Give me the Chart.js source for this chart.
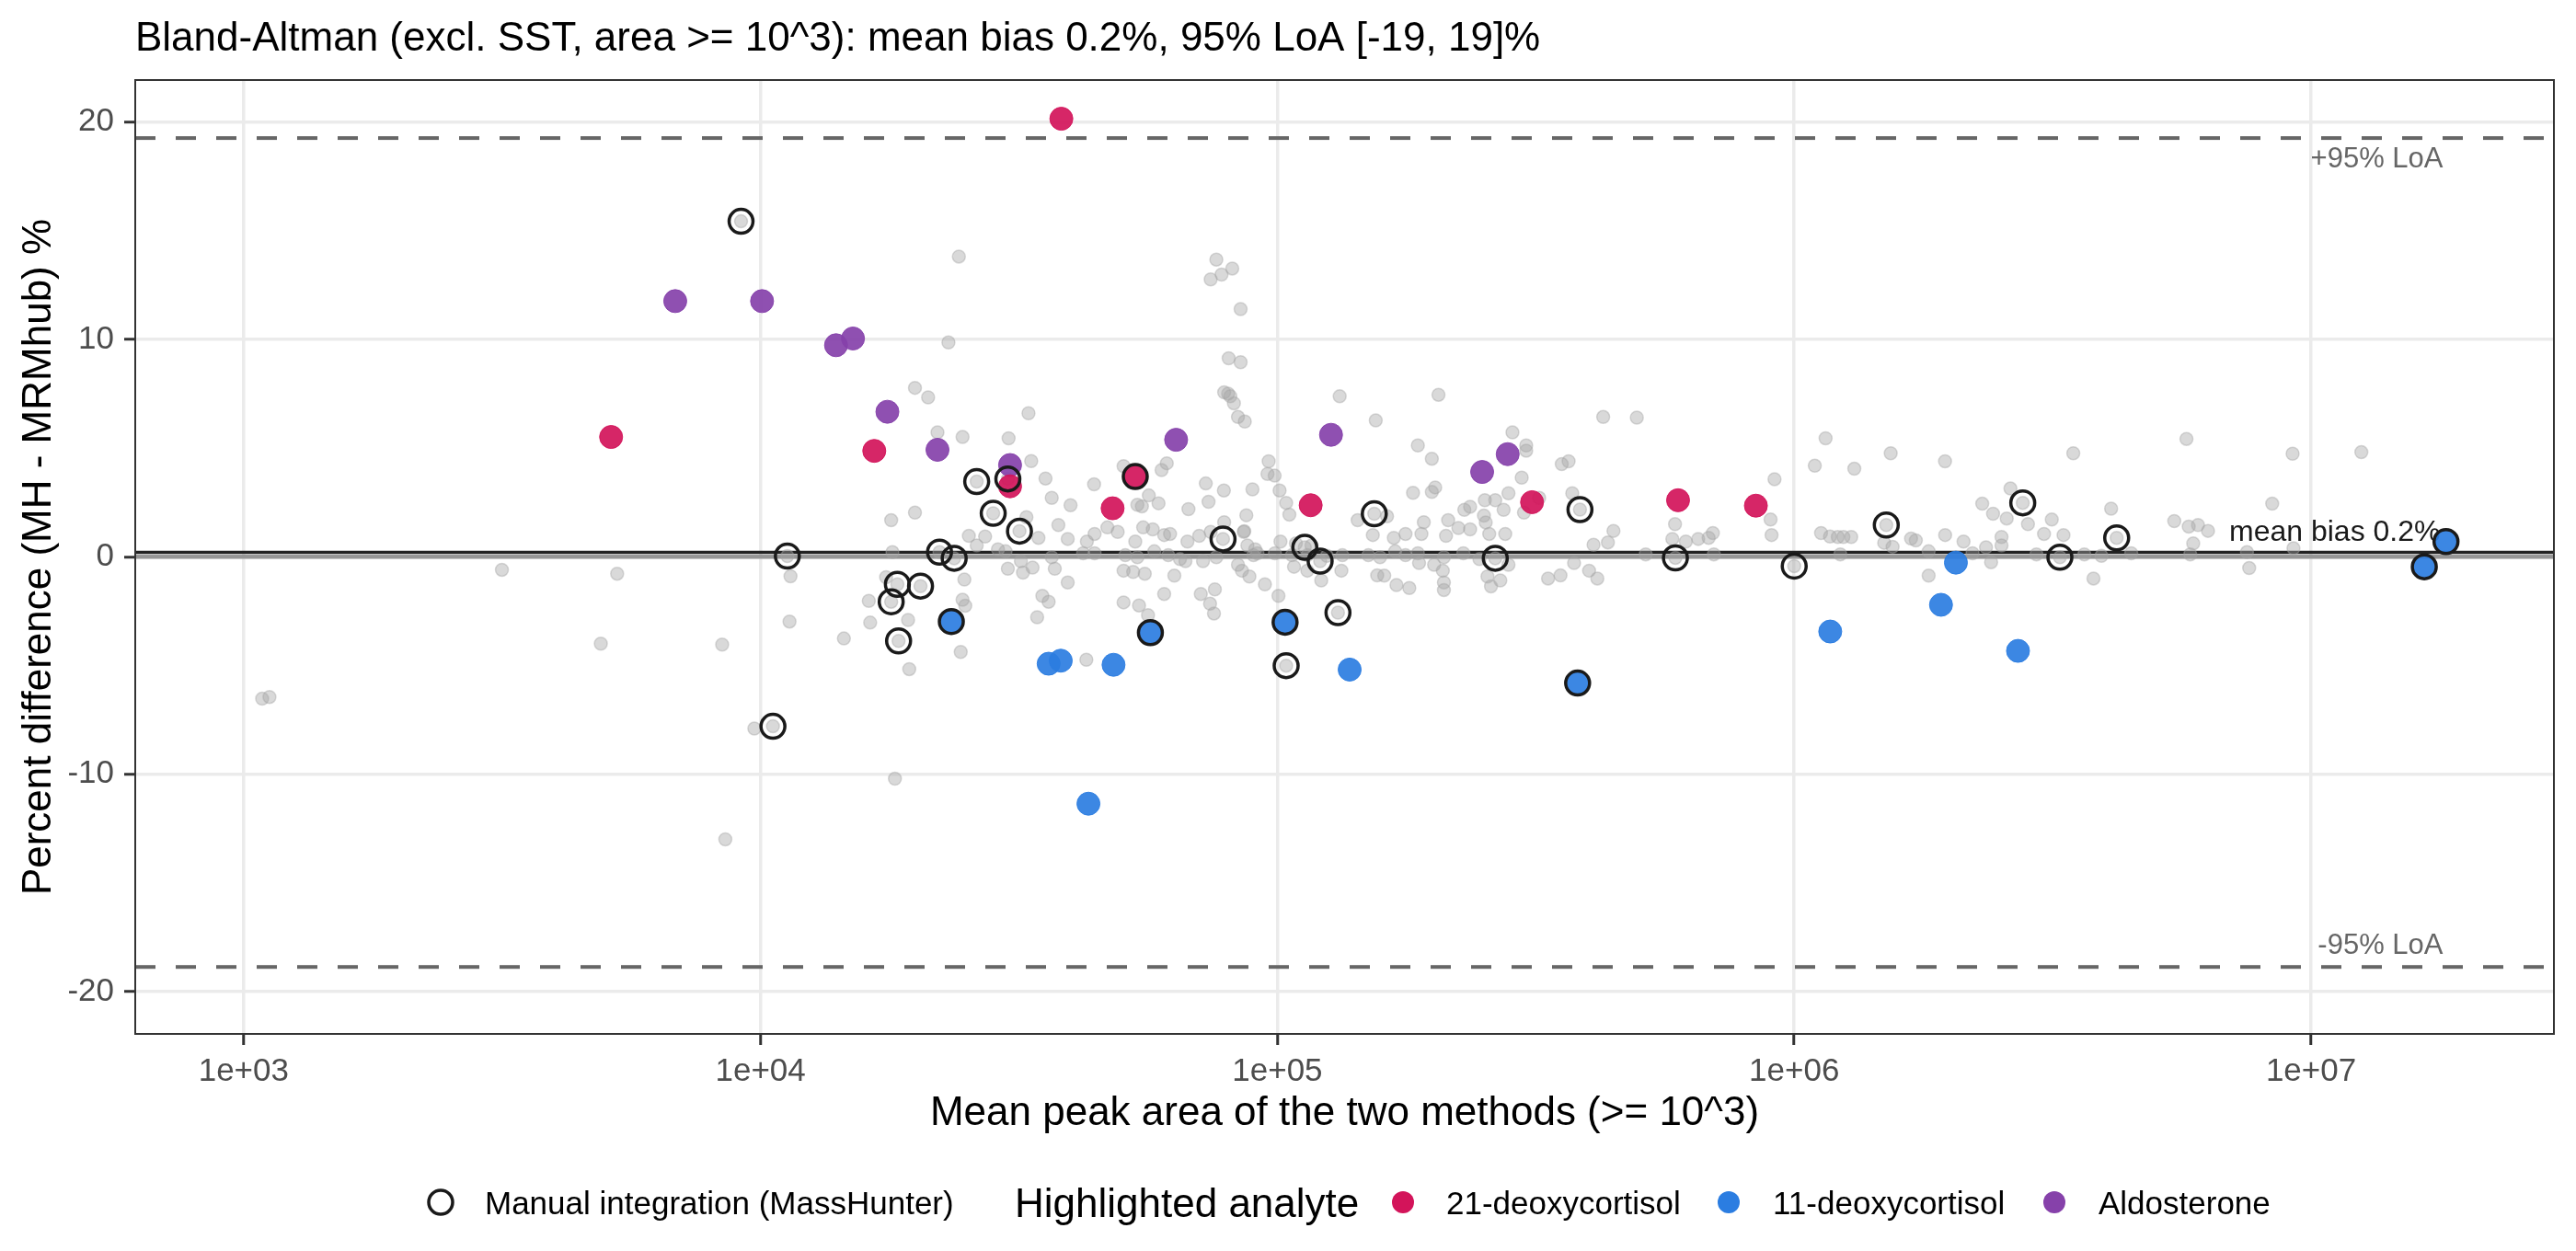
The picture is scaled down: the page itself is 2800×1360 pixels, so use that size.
<!DOCTYPE html>
<html>
<head>
<meta charset="utf-8">
<script src="https://cdn.jsdelivr.net/npm/chart.js@4.4.1/dist/chart.umd.min.js"></script>
<style>
  html, body { margin: 0; padding: 0; background: #ffffff; }
  #wrap { width: 2800px; height: 1360px; }
</style>
</head>
<body>
<div id="wrap"><canvas id="ba" width="2800" height="1360"></canvas></div>
<script>
// mean peak area (x) and percent difference (y) for every transition
const grayArea = [
  3160, 5280, 4910, 1086, 1122, 8430, 8550, 9170, 9730, 10570, 11270, 11430, 11380,
  24200, 23100, 19900, 21100, 22000, 24600, 33000, 30200, 33400, 26200, 30100, 28200, 31700,
  35600, 36600, 39800, 44200, 37700, 32700, 50400, 61100, 59700, 53600, 54700, 56400, 58900,
  67300, 72700, 78800, 73600, 76200, 78000, 74300, 81800, 84900, 80500, 84900, 78900, 80300,
  81100, 82400, 83900, 86500, 132000, 96200, 95700, 98800, 101000, 104000, 105500, 89500, 87100,
  86300, 78500, 113000, 121000, 131000, 104000, 18500, 18400, 20400, 17900, 22200, 23700, 42700,
  14500, 16200, 16300, 17500, 19300, 19400, 18200, 17900, 19900, 18000, 24600, 24900, 24800,
  24400, 25300, 27200, 26200, 28800, 29800, 30100, 32200, 33600, 31900, 34500, 35100, 36100,
  34300, 36600, 37100, 39300, 39300, 42800, 44300, 46900, 49100, 53100, 55000, 57400, 60400,
  62000, 42100, 44300, 50800, 53600, 57800, 61500, 64800, 66400, 71800, 76200, 89900, 91500,
  98900, 106700, 114300, 124700, 133600, 50400, 52600, 55400, 63200, 60400, 71100, 74100, 75400,
  75700, 50400, 54000, 56200, 83900, 85400, 88300, 94600, 100500, 107700, 114300, 121600, 133000,
  67000, 70600, 74300, 78900, 86100, 87500, 90600, 101400, 108600, 116400, 143000,
  154000, 155000, 205000, 187000, 199000, 183000, 199000, 202000, 285000, 303000, 303000, 297000,
  280000, 274000, 300000, 321000, 230000, 236000, 252000, 264000, 251000, 253000, 276000, 257000,
  214000, 224000, 236000, 212000, 192000, 190000, 177000, 168000, 153000, 163000, 150000, 158000,
  169000, 177000, 187000, 188000, 201000, 210000, 229000, 246000, 280000, 156000, 161000, 170000,
  180000, 209000, 210000, 210000, 255000, 259000, 270000, 334000, 353000, 375000, 401000, 416000,
  264000, 385000, 372000, 355000, 366000, 427000, 496000, 409000, 436000, 447000, 516000, 589000,
  588000, 581000, 617000, 652000, 683000, 696000, 699000, 916000, 900000, 904000, 1000000,
  1150000, 1096000, 1307000, 1537000, 1958000, 1127000, 1173000, 1214000, 1245000, 1289000,
  1228000, 1493000, 1550000, 1683000, 1719000, 1820000, 1820000, 1959000, 2126000, 1507000,
  3467000, 5740000, 9210000, 12510000, 8410000, 2768000, 2620000, 2311000, 2425000, 2577000,
  2833000, 3150000, 3043000, 3319000, 2518000, 4103000, 4206000, 3266000, 2213000, 2350000,
  2518000, 2404000, 2942000, 3641000, 3930000, 4488000, 3793000, 5436000, 5798000, 6042000,
  6318000, 5915000, 5837000, 7516000, 7590000, 9245000
];
const grayDiff = [
  -0.6, -0.78, -4.0, -6.53, -6.45, -4.04, -13.0, 15.43, -7.9, -7.8, 0.03, -0.9, -2.98,
  13.81, 9.86, 7.77, 7.33, 5.72, 5.51, 6.60, 5.45, 4.40, 3.46, 3.58, 2.0, 1.18,
  3.60, 2.71, 2.37, 3.33, 1.46, 1.82, 4.17, 4.30, 3.99, 2.39, 2.32, 2.82, 2.46,
  2.19, 3.37, 3.05, 2.53, 13.67, 12.98, 12.76, 13.26, 11.39, 9.13, 8.95, 7.56, 7.50,
  7.38, 7.06, 6.43, 6.22, 7.38, 4.39, 3.81, 3.73, 3.05, 2.48, 1.94, 3.10, 1.91,
  1.18, 0.82, 0.43, -0.20, -2.57, -5.01, -3.87, -1.27, -1.35, -2.07, 0.21, -0.07, -4.74,
  -3.76, -2.03, -3.03, -0.94, -2.91, -5.17, -10.21, 1.68, 2.03, 0.21, -1.98, -2.25, -1.05,
  -4.38, 0.96, 0.93, 0.52, 0.34, 0.25, -0.55, -0.73, -0.50, -0.2, 0.87, -1.80, -2.07,
  -2.78, -0.02, -0.55, -1.18, 0.82, 0.70, 1.05, 1.35, 1.14, 0.70, 1.35, 1.26, 1.0,
  1.05, 0.16, 0.16, 0.07, -0.02, 0.25, 0.07, -0.11, -0.2, -0.2, -0.02, 0.07, 0.16,
  0.16, 0.07, 0.07, 0.04, 0.07, -0.64, -0.70, -0.78, -0.87, -1.71, -1.71, -2.16, -2.61,
  -1.50, -2.10, -2.24, -2.69, -0.37, -0.64, -0.91, -1.27, -1.80, -0.46, -0.64, -1.09, -0.64,
  0.70, 0.96, 1.14, 1.59, 1.14, 0.52, 0.34, 0.70, 0.61, 0.52, 1.68,
  1.98, 6.27, 7.45, 5.12, 4.51, 2.94, 2.98, 3.19, 5.72, 5.12, 4.88, 3.64,
  2.92, 2.16, 2.03, 2.71, 2.16, 2.30, 2.60, 2.60, 1.89, 1.58, 1.05, 1.05,
  1.68, 1.32, 1.26, 0.96, 1.59, 1.05, 1.05, 0.87, 1.00, 1.86, 0.07, -0.02,
  0.25, 0.07, 0.16, -0.29, -0.37, -0.02, 0.16, -0.11, -0.37, -0.86, -0.87, -1.30,
  -1.44, -0.64, -1.18, -1.53, -0.91, -1.36, -1.09, -1.00, -0.86, -0.29, -0.64, -1.0,
  -0.07, 2.17, 2.92, 4.26, 4.39, 6.43, 6.40, 0.55, 0.66, 1.19, 0.11, -0.05,
  1.50, 0.82, 0.70, 0.82, 0.87, 1.09, 0.11, 3.57, 1.71, 1.0, -0.43,
  5.45, 4.19, 4.05, 4.76, 4.39, 1.09, 0.93, 0.91, 0.91, 0.91,
  0.11, 0.64, 0.46, 0.84, 0.75, 0.25, -0.87, 1.00, 0.70, 1.46,
  4.76, 5.42, 4.74, 4.81, 2.44, 2.48, 3.14, 2.44, 1.98, 1.76,
  1.50, 1.71, 1.05, 1.00, 0.91, 2.21, 0.87, -0.02, 0.16, 0.43,
  0.52, -0.25, 0.11, 0.11, 0.04, 0.16, -1.0, 1.64, 1.39, 1.46,
  1.19, 0.61, 0.11, 0.21, -0.52, 0.39
];

// highlighted analytes
const redArea = [5140, 16600, 30400, 48000, 53100, 38200, 116000, 311000, 596000, 843000];
const redDiff = [5.51, 4.87, 3.24, 2.23, 3.69, 20.15, 2.37, 2.51, 2.60, 2.35];
const blueArea = [23400, 36100, 38100, 48200, 56800, 103500, 138000, 43100, 381000, 1174000, 1923000, 2055000, 2710000, 16560000, 18240000];
const blueDiff = [-2.98, -4.92, -4.78, -4.97, -3.49, -3.01, -5.19, -11.36, -5.81, -3.44, -2.21, -0.27, -4.33, -0.46, 0.70];
const purpleArea = [6840, 10070, 14000, 15100, 17600, 22000, 30400, 63700, 127000, 249000, 279000];
const purpleDiff = [11.76, 11.76, 9.73, 10.04, 6.67, 4.92, 4.22, 5.38, 5.61, 3.90, 4.72];

// manual integration in MassHunter
const manualArea = [9170, 10570, 11270, 26200, 30100, 28200, 31700, 78500, 113000, 121000, 131000, 104000,
  18500, 18400, 20400, 17900, 22200, 23700, 154000, 264000, 385000, 589000, 1000000, 1507000,
  2768000, 4206000, 3266000, 53100, 23400, 56800, 103500, 381000, 16560000, 18240000];
const manualDiff = [15.43, -7.8, 0.03, 3.46, 3.58, 2.0, 1.18, 0.82, 0.43, -0.20, -2.57, -5.01,
  -3.87, -1.27, -1.35, -2.07, 0.21, -0.07, 1.98, -0.07, 2.17, -0.05, -0.43, 1.46,
  2.48, 0.87, -0.02, 3.69, -2.98, -3.49, -3.01, -5.81, -0.46, 0.70];

const meanBias = 0.2;
const loaUpper = 19.26;
const loaLower = -18.87;
const xTicks = [1e3, 1e4, 1e5, 1e6, 1e7];
const yTicks = [-20, -10, 0, 10, 20];

const FONT = "'Liberation Sans', Arial, Helvetica, sans-serif";
const RED = '#D3145A', BLUE = '#2B7DE1', PURPLE = '#8641AA';

function pts(xs, ys) {
  return xs.map((x, i) => ({ x: x, y: ys[i] }));
}

const refLines = {
  id: 'refLines',
  beforeDatasetsDraw(chart) {
    const { ctx, chartArea: a, scales } = chart;
    const x = scales.x, y = scales.y;
    ctx.save();
    ctx.beginPath();
    ctx.rect(a.left, a.top, a.width, a.height);
    ctx.clip();
    function hline(v, color, w, dash) {
      const py = y.getPixelForValue(v);
      ctx.beginPath();
      ctx.setLineDash(dash || []);
      ctx.strokeStyle = color;
      ctx.lineWidth = w;
      ctx.moveTo(a.left, py);
      ctx.lineTo(a.right, py);
      ctx.stroke();
    }
    hline(0, 'rgba(120,120,120,0.75)', 4.5);
    hline(meanBias, '#222222', 3.5);
    hline(loaUpper, '#666666', 4, [22, 22]);
    hline(loaLower, '#666666', 4, [22, 22]);
    ctx.setLineDash([]);

    const lx = x.getPixelForValue(1.8e7);
    ctx.textAlign = 'right';
    ctx.textBaseline = 'alphabetic';
    ctx.fillStyle = '#666666';
    ctx.font = '31px ' + FONT;
    ctx.fillText('+95% LoA', lx, y.getPixelForValue(loaUpper) + 32);
    ctx.fillText('-95% LoA', lx, y.getPixelForValue(loaLower) - 14);
    ctx.fillStyle = '#1a1a1a';
    ctx.font = '32px ' + FONT;
    ctx.fillText('mean bias 0.2%', lx - 3, y.getPixelForValue(meanBias) - 13);
    ctx.restore();
  },
  afterDraw(chart) {
    const { ctx, chartArea: a } = chart;
    ctx.save();
    // panel border
    ctx.strokeStyle = '#333333';
    ctx.lineWidth = 2;
    ctx.strokeRect(a.left, a.top, a.width, a.height);

    // plot title
    ctx.fillStyle = '#000000';
    ctx.textAlign = 'left';
    ctx.textBaseline = 'alphabetic';
    ctx.font = '44px ' + FONT;
    ctx.fillText('Bland-Altman (excl. SST, area >= 10^3): mean bias 0.2%, 95% LoA [-19, 19]%', a.left, 55);

    // axis titles
    ctx.font = '44px ' + FONT;
    ctx.textAlign = 'center';
    ctx.fillText('Mean peak area of the two methods (>= 10^3)', (a.left + a.right) / 2, 1223);
    ctx.save();
    ctx.translate(55, (a.top + a.bottom) / 2);
    ctx.rotate(-Math.PI / 2);
    ctx.fillText('Percent difference (MH - MRMhub) %', 0, 0);
    ctx.restore();

    // legend
    const ly = 1307;
    ctx.beginPath();
    ctx.arc(479, ly, 13, 0, Math.PI * 2);
    ctx.strokeStyle = '#1a1a1a';
    ctx.lineWidth = 3.5;
    ctx.stroke();
    ctx.textAlign = 'left';
    ctx.textBaseline = 'alphabetic';
    ctx.fillStyle = '#000000';
    ctx.font = '35px ' + FONT;
    ctx.fillText('Manual integration (MassHunter)', 527, ly + 12.5);
    ctx.font = '44px ' + FONT;
    ctx.fillText('Highlighted analyte', 1103, ly + 16);
    const items = [[RED, 1525, 1572, '21-deoxycortisol'], [BLUE, 1879, 1927, '11-deoxycortisol'], [PURPLE, 2233, 2281, 'Aldosterone']];
    ctx.font = '35px ' + FONT;
    items.forEach(it => {
      ctx.beginPath();
      ctx.arc(it[1], ly, 12, 0, Math.PI * 2);
      ctx.fillStyle = it[0];
      ctx.fill();
      ctx.fillStyle = '#000000';
      ctx.fillText(it[3], it[2], ly + 12.5);
    });
    ctx.restore();
  }
};

new Chart(document.getElementById('ba').getContext('2d'), {
  type: 'scatter',
  data: {
    datasets: [
      {
        label: 'Manual integration (MassHunter)',
        data: pts(manualArea, manualDiff),
        order: 1,
        pointRadius: 13,
        pointBackgroundColor: 'rgba(0,0,0,0)',
        pointBorderColor: '#1a1a1a',
        pointBorderWidth: 3.5
      },
      {
        label: '21-deoxycortisol',
        data: pts(redArea, redDiff),
        order: 2,
        pointRadius: 12.5,
        pointBackgroundColor: 'rgba(211,20,90,0.92)',
        pointBorderColor: 'rgba(211,20,90,0.92)',
        pointBorderWidth: 1
      },
      {
        label: '11-deoxycortisol',
        data: pts(blueArea, blueDiff),
        order: 2,
        pointRadius: 12.5,
        pointBackgroundColor: 'rgba(43,125,225,0.92)',
        pointBorderColor: 'rgba(43,125,225,0.92)',
        pointBorderWidth: 1
      },
      {
        label: 'Aldosterone',
        data: pts(purpleArea, purpleDiff),
        order: 2,
        pointRadius: 12.5,
        pointBackgroundColor: 'rgba(134,65,170,0.92)',
        pointBorderColor: 'rgba(134,65,170,0.92)',
        pointBorderWidth: 1
      },
      {
        label: 'All transitions',
        data: pts(grayArea, grayDiff),
        order: 3,
        pointRadius: 7,
        pointBackgroundColor: 'rgba(165,165,165,0.42)',
        pointBorderColor: 'rgba(165,165,165,0.42)',
        pointBorderWidth: 1.5
      }
    ]
  },
  options: {
    responsive: false,
    devicePixelRatio: 1,
    animation: false,
    events: [],
    layout: { padding: { left: 0, top: 87, right: 24, bottom: 176 } },
    plugins: { legend: { display: false }, tooltip: { enabled: false }, title: { display: false } },
    scales: {
      x: {
        type: 'logarithmic',
        min: 617,
        max: 2.95e7,
        afterBuildTicks: s => { s.ticks = xTicks.map(v => ({ value: v })); },
        afterFit: s => { s.height = 60; },
        border: { display: false },
        grid: { color: '#EBEBEB', lineWidth: 3.5, tickColor: '#333333', tickLength: 12, tickWidth: 3 },
        ticks: {
          autoSkip: false, maxRotation: 0, padding: 8, color: '#4D4D4D',
          font: { family: FONT, size: 35 },
          callback: v => '1e+' + String(Math.round(Math.log10(v))).padStart(2, '0')
        }
      },
      y: {
        type: 'linear',
        min: -21.95,
        max: 21.93,
        afterBuildTicks: s => { s.ticks = yTicks.map(v => ({ value: v })); },
        afterFit: s => { s.width = 147; },
        border: { display: false },
        grid: { color: '#EBEBEB', lineWidth: 3.5, tickColor: '#333333', tickLength: 12, tickWidth: 3 },
        ticks: { padding: 11, color: '#4D4D4D', font: { family: FONT, size: 35 } }
      }
    }
  },
  plugins: [refLines]
});
</script>
</body>
</html>
